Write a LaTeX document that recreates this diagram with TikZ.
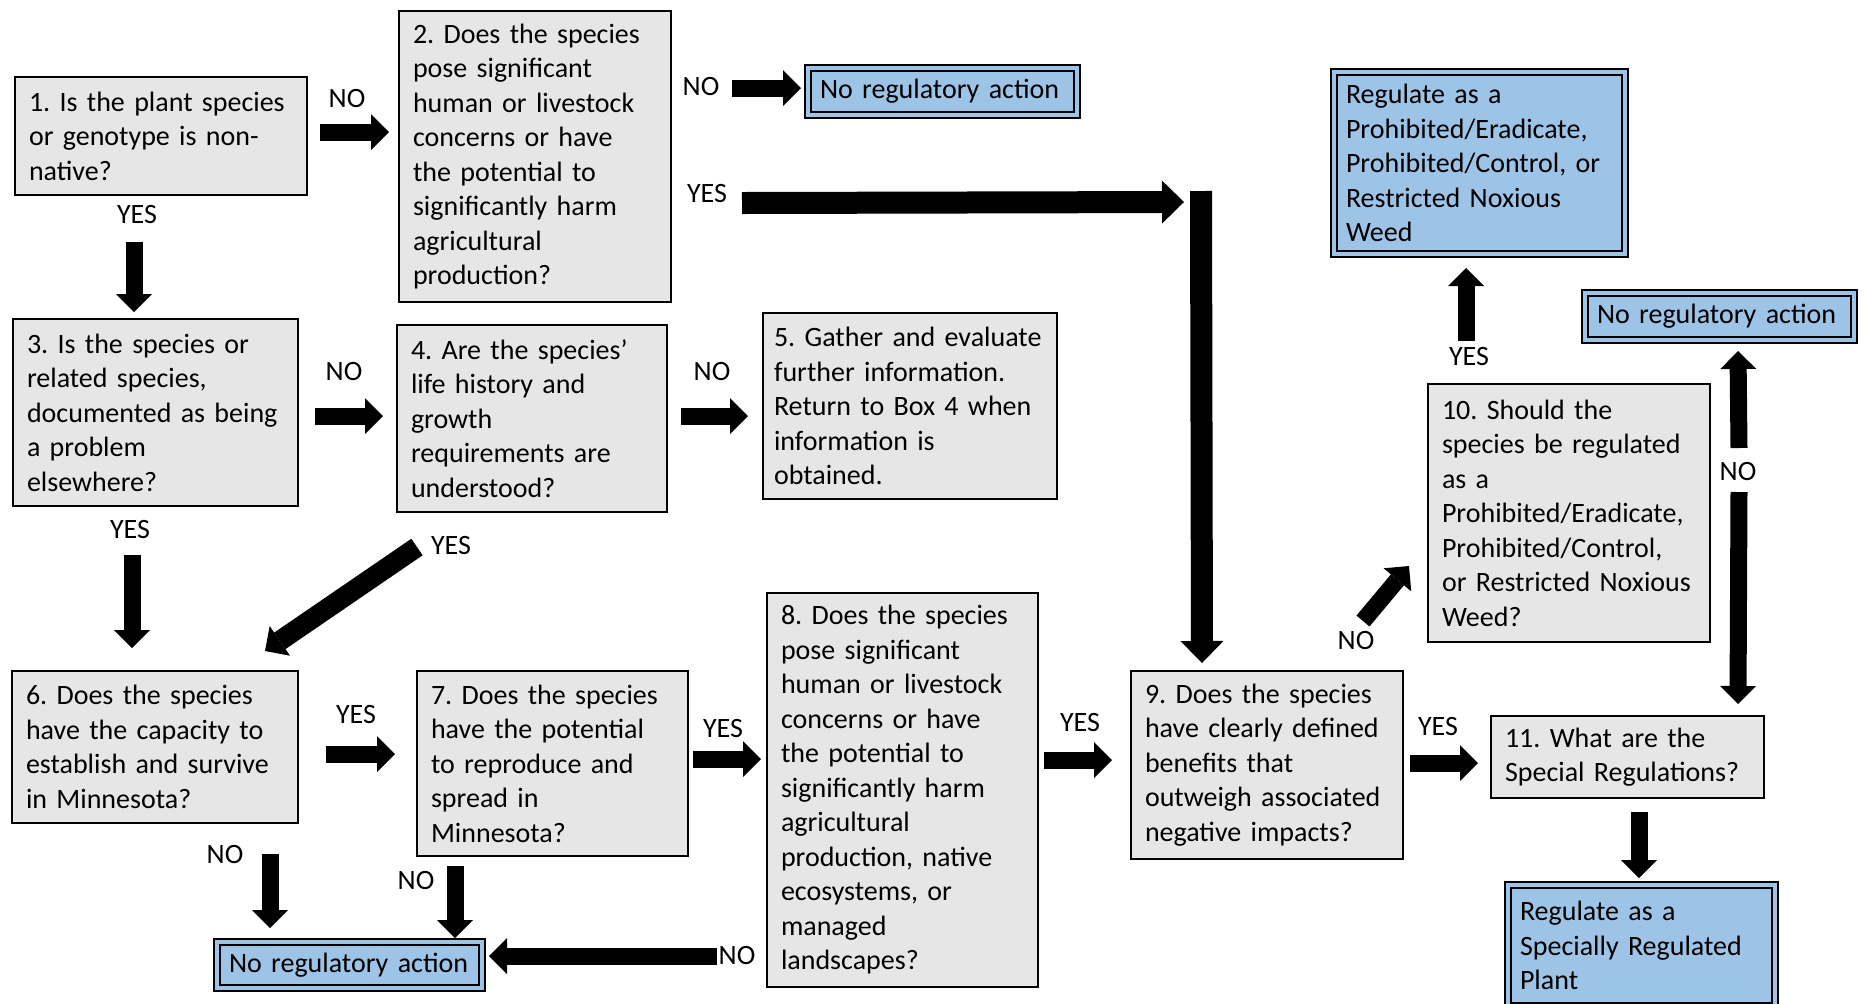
\documentclass[tikz,border=0pt]{standalone}
\usepackage{fontspec}
\setmainfont{Carlito}
\usepackage{tikz}
\usetikzlibrary{arrows.meta}
\definecolor{ink}{HTML}{000000}
\definecolor{gryL}{HTML}{E7E6E6}
\definecolor{bluL}{HTML}{9DC3E6}
\newcommand{\boxfont}{\fontsize{14}{17.25}\selectfont\frenchspacing\hyphenpenalty=10000 }
\tikzset{
  box/.style    ={draw=ink, line width=1pt, anchor=north west, align=left,
                  inner xsep=7pt, inner ysep=2pt, font=\boxfont, text=ink},
  qq/.style     ={box, fill=gryL},
  act/.style    ={box, fill=bluL, double=bluL, double distance=2pt, inner xsep=6pt},
  lbl/.style    ={font=\boxfont, text=ink, inner sep=1pt},
  flow/.style   ={-{Triangle[width=18pt,length=9pt,line width=0pt]}, line width=8.5pt, draw=ink},
  bigflow/.style={-{Triangle[width=21.5pt,length=11pt,line width=0pt]}, line width=11pt, draw=ink},
}
\begin{document}
\begin{tikzpicture}[x=0.5pt,y=-0.5pt]
  \useasboundingbox (0,0) rectangle (1865,1003);
  % questions
  \node[qq, text width=132pt, minimum height=59pt](b1) at (14,76){1. Is the plant species\\or genotype is non-\\native?};
  \node[qq, text width=122pt, minimum height=145.5pt](b2) at (398,10){2. Does the species\\pose significant\\human or livestock\\concerns or have\\the potential to\\significantly harm\\agricultural\\production?};
  \node[qq, text width=128.5pt, minimum height=93.5pt](b3) at (12,318){3. Is the species or\\related species,\\documented as being\\a problem\\elsewhere?};
  \node[qq, text width=121pt, minimum height=93.5pt](b4) at (396,324){4. Are the species’\\life history and\\growth\\requirements are\\understood?};
  \node[qq, inner xsep=5.5pt, text width=136pt, minimum height=93pt](b5) at (762,312){5. Gather and evaluate\\further information.\\Return to Box 4 when\\information is\\obtained.};
  \node[qq, text width=129pt, minimum height=76pt](b6) at (11,670){6. Does the species\\have the capacity to\\establish and survive\\in Minnesota?};
  \node[qq, text width=121.5pt, minimum height=92.5pt](b7) at (416,670){7. Does the species\\have the potential\\to reproduce and\\spread in\\Minnesota?};
  \node[qq, text width=121.5pt, minimum height=197pt](b8) at (766,592){8. Does the species\\pose significant\\human or livestock\\concerns or have\\the potential to\\significantly harm\\agricultural\\production, native\\ecosystems, or\\managed\\landscapes?};
  \node[qq, text width=122pt, minimum height=94pt](b9) at (1130,670){9. Does the species\\have clearly defined\\benefits that\\outweigh associated\\negative impacts?};
  \node[qq, text width=127pt, minimum height=129pt](b10) at (1427,383){10. Should the\\species be regulated\\as a\\Prohibited/Eradicate,\\Prohibited/Control,\\or Restricted Noxious\\Weed?};
  \node[qq, text width=122.5pt, minimum height=41pt](b11) at (1490,715){11. What are the\\Special Regulations?};
  % outcomes
  \node[act, text width=122.5pt, minimum height=23.5pt](nr1) at (807,67){No regulatory action};
  \node[act, text width=133.5pt, minimum height=91pt](rp) at (1333,71){Regulate as a\\Prohibited/Eradicate,\\Prohibited/Control, or\\Restricted Noxious\\Weed};
  \node[act, text width=122.5pt, minimum height=23.5pt](nr2) at (1584,292){No regulatory action};
  \node[act, text width=121.5pt, minimum height=60.5pt](rs) at (1507,884){Regulate as a\\Specially Regulated\\Plant};
  \node[act, text width=120.5pt, minimum height=23pt](nr3) at (216,941){No regulatory action};
  % answers
  \node[lbl](n1) at (347,99){NO};
  \node[lbl](y1) at (137,215){YES};
  \node[lbl](n2) at (701,87){NO};
  \node[lbl](y2) at (707,194){YES};
  \node[lbl](n3) at (344,371){NO};
  \node[lbl](n4) at (712,371){NO};
  \node[lbl](y3) at (130,529){YES};
  \node[lbl](y4) at (451,545){YES};
  \node[lbl](y6) at (356,714){YES};
  \node[lbl](y7) at (723,728){YES};
  \node[lbl](y8) at (1080,722){YES};
  \node[lbl](y9) at (1438,726){YES};
  \node[lbl](n6) at (225,854){NO};
  \node[lbl](n7) at (416,880){NO};
  \node[lbl](n8) at (737,955){NO};
  \node[lbl](n9) at (1356,640){NO};
  \node[lbl](y10) at (1469,357){YES};
  \node[lbl](n10) at (1738,471){NO};
  \coordinate (bar) at (1201,191);
  % arrows
  \draw[flow] ([shift={(12,-4)}]b1.east) -- ([shift={(-9,-24.5)}]b2.west);
  \draw[flow] ([shift={(-27,46)}]b1.south) -- ([shift={(-21.5,-6)}]b3.north);
  \draw[flow] ([shift={(60,-68.5)}]b2.east) -- ([shift={(-6,-3.5)}]nr1.west);
  \draw[bigflow] ([shift={(70,46.5)}]b2.east) -- ([shift={(-17,11)}]bar);
  \draw[bigflow] (bar) -- ([shift={(-65,-7)}]b9.north);
  \draw[flow] ([shift={(16,3.5)}]b3.east) -- ([shift={(-13,-2.5)}]b4.west);
  \draw[flow] ([shift={(13,-2.5)}]b4.east) -- ([shift={(-14,10)}]b5.west);
  \draw[flow] ([shift={(-23.5,48)}]b3.south) -- ([shift={(-23,-22)}]b6.north);
  \draw[flow, line width=10pt] ([shift={(-115,34)}]b4.south) -- ([shift={(110,-19)}]b6.north);
  \draw[flow] ([shift={(27,7)}]b6.east) -- ([shift={(-21,-9.5)}]b7.west);
  \draw[flow] ([shift={(4,-4.5)}]b7.east) -- ([shift={(-5,-31)}]b8.west);
  \draw[flow] ([shift={(5,-30)}]b8.east) -- ([shift={(-18,-5)}]b9.west);
  \draw[flow] ([shift={(6,-2)}]b9.east) -- ([shift={(-12,6)}]b11.west);
  \draw[flow] ([shift={(115,30)}]b6.south) -- ([shift={(-79.5,-13)}]nr3.north);
  \draw[flow] ([shift={(-97.5,9)}]b7.south) -- ([shift={(105.5,-3)}]nr3.north);
  \draw[flow] ([shift={(-49,166)}]b8.west) -- ([shift={(6,-9)}]nr3.east);
  \draw[flow] ([shift={(96,-49)}]b9.north) -- ([shift={(-18,53)}]b10.west);
  \draw[flow] ([shift={(-103,-42)}]b10.north) -- ([shift={(-13.5,13)}]rp.south);
  \draw[flow] ([shift={(28,-65)}]b10.east) -- ([shift={(18.5,10)}]nr2.south);
  \draw[flow] ([shift={(28,-21)}]b10.east) -- ([shift={(110.5,-11)}]b11.north);
  \draw[flow] ([shift={(11.5,13)}]b11.south) -- ([shift={(-2.5,-6)}]rs.north);
\end{tikzpicture}
\end{document}
